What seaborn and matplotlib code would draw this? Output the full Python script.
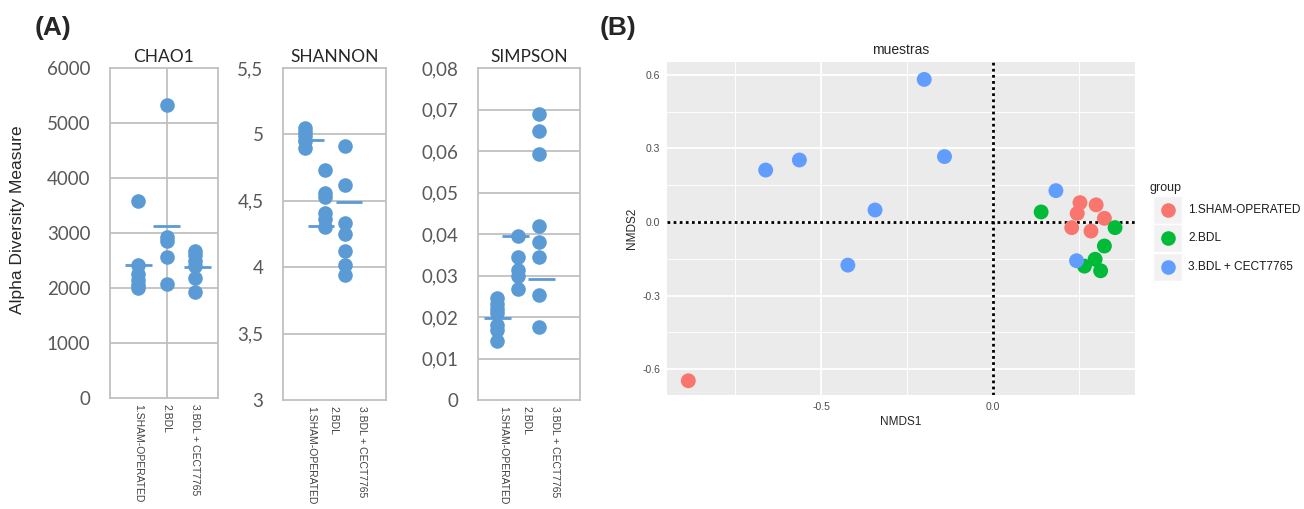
import matplotlib
matplotlib.use('Agg')
import matplotlib.pyplot as plt
import matplotlib.patches as mpatches
from matplotlib.ticker import FuncFormatter, FixedLocator
import seaborn as sns
import numpy as np
import pandas as pd

# ---- data ----
groups = ['1.SHAM-OPERATED', '2.BDL', '3.BDL + CECT7765']

chao1_sham = [3580, 2420, 2250, 2150, 2050, 2000]
chao1_bdl = [5330, 2930, 2850, 2560, 2080]
chao1_cect = [2680, 2600, 2500, 2400, 2180, 1930]
chao1_lines = [2424, 3121, 2376]

shannon_sham = [5.05, 5.02, 4.99, 4.95, 4.90]
shannon_bdl = [4.73, 4.56, 4.53, 4.41, 4.36, 4.30]
shannon_cect = [4.91, 4.62, 4.33, 4.25, 4.12, 4.02, 3.94]
shannon_lines = [4.96, 4.31, 4.49]

simpson_sham = [0.0246, 0.0232, 0.0220, 0.0210, 0.0180, 0.0168, 0.0143]
simpson_bdl = [0.0395, 0.0345, 0.0313, 0.0298, 0.0268]
simpson_cect = [0.069, 0.0648, 0.0592, 0.0420, 0.0380, 0.0345, 0.0254, 0.0176]
simpson_lines = [0.0198, 0.0395, 0.0292]

nmds_group = (['1.SHAM-OPERATED'] * 7 + ['2.BDL'] * 6 + ['3.BDL + CECT7765'] * 8)
nmds1 = [-0.886, 0.253, 0.245, 0.324, 0.229, 0.285, 0.300,
         0.140, 0.355, 0.324, 0.297, 0.266, 0.313,
         -0.200, -0.141, -0.563, -0.661, -0.343, -0.422, 0.183, 0.243]
nmds2 = [-0.648, 0.079, 0.035, 0.015, -0.023, -0.037, 0.070,
         0.041, -0.023, -0.098, -0.152, -0.180, -0.199,
         0.582, 0.267, 0.253, 0.212, 0.049, -0.176, 0.128, -0.158]

gg_colors = ['#F8766D', '#00BA38', '#619CFF']
excel_blue = '#5B9BD5'

# ---- figure ----
sns.set_style('white')
plt.rcParams['font.family'] = ['Liberation Sans', 'DejaVu Sans']

W, H = 1304, 509
fig = plt.figure(figsize=(W / 100, H / 100), dpi=100)


def add_ax(x0, y0, x1, y1):
    return fig.add_axes([x0 / W, 1 - y1 / H, (x1 - x0) / W, (y1 - y0) / H])


def comma(v, pos):
    return f'{v:g}'.replace('.', ',')


panels = [
    dict(title='CHAO1', box=(110, 68, 218, 398), vals=(chao1_sham, chao1_bdl, chao1_cect),
         lines=chao1_lines, ylim=(0, 6000), ystep=1000, xlim=(-1.0, 2.82),
         ticks=[0, 1, 2], line_c=[0, 1, 2.1], line_w=0.95, vgrid=True),
    dict(title='SHANNON', box=(283, 68, 386, 400), vals=(shannon_sham, shannon_bdl, shannon_cect),
         lines=shannon_lines, ylim=(3, 5.5), ystep=0.5, xlim=(-1.08, 4.03),
         ticks=[0.33, 1.4, 2.83], line_c=[0.3, 0.8, 2.2], line_w=1.3, vgrid=False),
    dict(title='SIMPSON', box=(478, 68, 580, 400), vals=(simpson_sham, simpson_bdl, simpson_cect),
         lines=simpson_lines, ylim=(0, 0.08), ystep=0.01, xlim=(-0.92, 3.94),
         ticks=[0.27, 1.41, 2.74], line_c=[0, 0.85, 2.1], line_w=1.28, vgrid=False),
]

for p in panels:
    ax = add_ax(*p['box'])
    df = pd.DataFrame({
        'group': sum([[g] * len(v) for g, v in zip(groups, p['vals'])], []),
        'value': sum([list(v) for v in p['vals']], []),
    })
    sns.stripplot(data=df, x='group', y='value', order=groups, jitter=False,
                  size=10.5, color=excel_blue, linewidth=0, ax=ax, zorder=3)
    for c, v in zip(p['line_c'], p['lines']):
        ax.hlines(v, c - p['line_w'] / 2, c + p['line_w'] / 2, color=excel_blue, lw=2, zorder=4)
    ax.set_xlim(*p['xlim'])
    ax.set_ylim(*p['ylim'])
    yt = np.arange(p['ylim'][0], p['ylim'][1] + p['ystep'] / 2, p['ystep'])
    ax.set_yticks(yt)
    ax.yaxis.set_major_formatter(FuncFormatter(comma))
    for v in yt[1:-1]:
        ax.axhline(v, color='#C0C0C0', lw=1.3, zorder=1)
    if p['vgrid']:
        ax.axvline(1, color='#C0C0C0', lw=1.3, zorder=1)
    ax.set_xticks(p['ticks'])
    ax.set_xticklabels(groups, rotation=-90, va='top', ha='center',
                       fontsize=7.5, color='#404040')
    ax.tick_params(axis='x', length=2, width=0.8, color='#808080', pad=2)
    ax.tick_params(axis='y', length=0, pad=14)
    for lab in ax.get_yticklabels():
        lab.set_family(['Lato', 'DejaVu Sans'])
        lab.set_fontsize(13.5)
        lab.set_color('#595959')
    for s in ax.spines.values():
        s.set_color('#C0C0C0')
        s.set_linewidth(1.3)
    ax.set_xlabel('')
    ax.set_ylabel('')
    ax.set_title(p['title'], fontsize=12.5, family=['Lato', 'DejaVu Sans'], pad=4)

fig.text(18 / W, 1 - 220 / H, 'Alpha Diversity Measure', rotation=90, ha='center',
         va='center', fontsize=12.5, color='#262626')
fig.text(35 / W, 1 - 28 / H, '(A)', fontsize=19, fontweight='bold', va='center')
fig.text(600 / W, 1 - 28 / H, '(B)', fontsize=19, fontweight='bold', va='center')

# ---- panel B: NMDS ----
axb = add_ax(667, 62, 1135, 395)
axb.set_facecolor('#EBEBEB')
dfb = pd.DataFrame({'NMDS1': nmds1, 'NMDS2': nmds2, 'group': nmds_group})
sns.scatterplot(data=dfb, x='NMDS1', y='NMDS2', hue='group', hue_order=groups,
                palette=gg_colors, s=115, linewidth=0, legend=False, ax=axb, zorder=3)
axb.set_xlim(-0.948, 0.413)
axb.set_ylim(-0.706, 0.653)
axb.set_xticks([-0.5, 0.0])
axb.set_yticks([-0.6, -0.3, 0.0, 0.3, 0.6])
axb.xaxis.set_minor_locator(FixedLocator([-0.75, -0.25, 0.25]))
axb.yaxis.set_minor_locator(FixedLocator([-0.45, -0.15, 0.15, 0.45]))
axb.xaxis.set_major_formatter(FuncFormatter(lambda v, p: f'{v:.1f}'))
axb.yaxis.set_major_formatter(FuncFormatter(lambda v, p: f'{v:.1f}'))
axb.grid(which='major', color='white', lw=1.3)
axb.grid(which='minor', color='white', lw=0.7)
axb.set_axisbelow(True)
axb.axhline(0, color='black', lw=2, ls=(0, (1, 1.2)), zorder=2)
axb.axvline(0, color='black', lw=2, ls=(0, (1, 1.2)), zorder=2)
for s in axb.spines.values():
    s.set_visible(False)
axb.tick_params(which='major', length=3, width=0.8, color='#333333',
                labelsize=7.5, labelcolor='#4D4D4D', pad=2)
axb.tick_params(which='minor', length=0)
axb.set_xlabel('NMDS1', fontsize=8.5, labelpad=3)
axb.set_ylabel('NMDS2', fontsize=8.5, labelpad=3)
axb.set_title('muestras', fontsize=10, pad=6)

# legend
fig.text(1150 / W, 1 - 188 / H, 'group', fontsize=9, va='center', ha='left')
for i, (g, c) in enumerate(zip(groups, gg_colors)):
    yc = 210 + 28.3 * i
    fig.add_artist(mpatches.Rectangle((1153 / W, 1 - (yc + 14) / H), 29 / W, 28 / H,
                                      transform=fig.transFigure, facecolor='#F2F2F2',
                                      edgecolor='white', lw=1))
    fig.add_artist(plt.Line2D([1167.5 / W], [1 - yc / H], marker='o', ms=10.5,
                              color=c, mec='none', transform=fig.transFigure))
    fig.text(1188 / W, 1 - yc / H, g, fontsize=8.6, va='center', ha='left', color='#1A1A1A')

fig.savefig('out.png', dpi=100)
